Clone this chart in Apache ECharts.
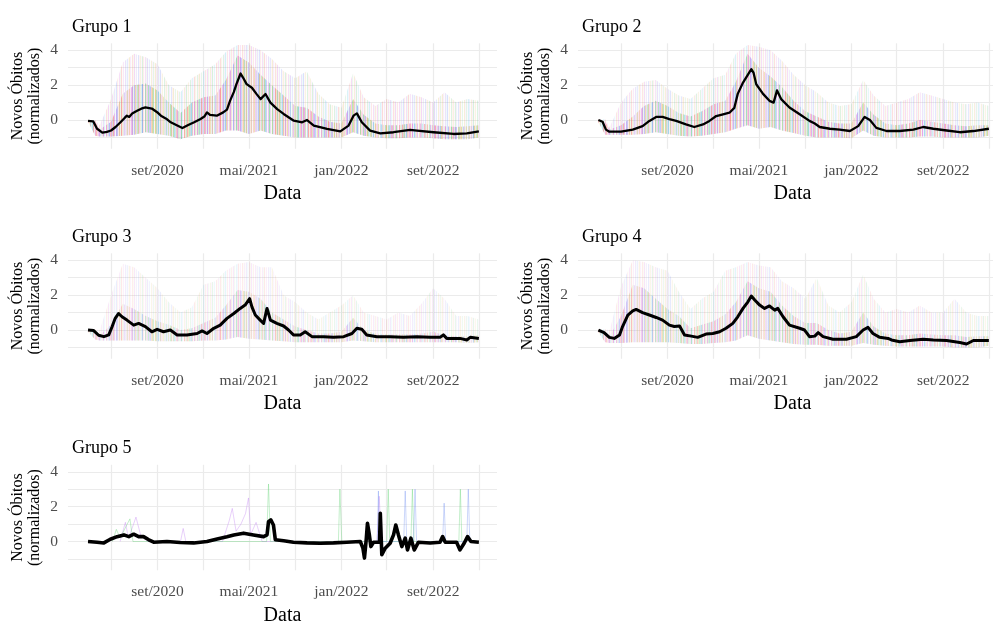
<!DOCTYPE html>
<html>
<head>
<meta charset="utf-8">
<title>Novos óbitos normalizados por grupo</title>
<script src="https://cdn.jsdelivr.net/npm/echarts@6/dist/echarts.min.js"></script>
<style>
	html, body { margin: 0; padding: 0; background: #ffffff; }
	#grafico { width: 993px; height: 621px; }
</style>
</head>
<body>
<div id="grafico"></div>
<script>
// ---- dados ----
var grupos = ['Grupo 1', 'Grupo 2', 'Grupo 3', 'Grupo 4', 'Grupo 5'];

var limitesData = ['2020-01-08', '2023-02-17'];
var rotulosData = ['2020-09-01', '2021-05-01', '2022-01-01', '2022-09-01'];
var gradeData = ['2020-05-01', '2020-09-01', '2021-01-01', '2021-05-01', '2021-09-01',
	'2022-01-01', '2022-05-01', '2022-09-01', '2023-01-01'];
var rotulosY = [0, 2, 4];
var gradeY = [-1, 0, 1, 2, 3, 4];
var nomesMeses = ['jan', 'fev', 'mar', 'abr', 'mai', 'jun', 'jul', 'ago', 'set', 'out', 'nov', 'dez'];

// datas da nuvem de séries individuais (envoltória)
var mesesNuvem = ['2020-03-01', '2020-03-20', '2020-04-01', '2020-05-01', '2020-06-01', '2020-07-01',
	'2020-08-01', '2020-09-01', '2020-10-01', '2020-11-01', '2020-12-01', '2021-01-01', '2021-02-01',
	'2021-03-01', '2021-04-01', '2021-05-01', '2021-06-01', '2021-07-01', '2021-08-01', '2021-09-01',
	'2021-10-01', '2021-11-01', '2021-12-01', '2022-01-01', '2022-02-01', '2022-03-01', '2022-04-01',
	'2022-05-01', '2022-06-01', '2022-07-01', '2022-08-01', '2022-09-01', '2022-10-01', '2022-11-01',
	'2022-12-01', '2022-12-31'];

var grupo1Teto = [0.0, 0.0, -0.3, 1.2, 3.3, 3.8, 3.6, 3.2, 2.0, 1.6, 2.4, 2.8, 3.2, 3.9, 4.3, 4.3, 4.0, 3.5,
	2.8, 2.4, 2.8, 1.5, 0.9, 0.7, 2.7, 1.3, 0.8, 1.2, 1.0, 1.5, 1.3, 1.0, 1.6, 1.0, 1.2, 1.1];
var grupo1Nucleo = [0.0, -0.1, -0.55, -0.1, 1.5, 2.0, 2.1, 1.7, 1.0, 0.4, 1.0, 1.3, 1.4, 2.3, 3.7, 3.3, 2.6,
	2.0, 1.4, 0.8, 0.7, 0.2, -0.1, -0.2, 1.2, 0.3, -0.2, -0.3, -0.3, -0.2, -0.2, -0.3, -0.35, -0.4, -0.35, -0.3];
var grupo1Piso = [-0.1, -0.9, -0.95, -0.95, -0.9, -0.85, -0.7, -0.8, -0.9, -1.1, -0.9, -0.8, -0.8, -0.6, -0.6,
	-0.8, -0.6, -0.8, -0.9, -1.0, -1.0, -1.0, -1.0, -1.0, -0.7, -0.9, -1.0, -1.05, -1.05, -1.0, -1.0, -1.05,
	-1.1, -1.1, -1.1, -1.0];

var grupo2Teto = [0.05, 0.05, -0.4, 1.0, 1.8, 2.2, 2.3, 1.8, 1.4, 1.2, 1.8, 2.4, 2.6, 3.8, 4.3, 4.2, 4.0, 3.4,
	2.6, 2.0, 1.6, 1.0, 0.8, 0.9, 2.3, 1.4, 0.8, 1.0, 1.2, 1.6, 1.4, 1.2, 1.0, 0.9, 1.0, 0.8];
var grupo2Nucleo = [0.0, -0.1, -0.55, -0.3, 0.2, 0.8, 1.1, 0.8, 0.4, 0.2, 0.5, 0.9, 1.1, 2.2, 3.8, 3.0, 2.5,
	1.9, 1.1, 0.5, 0.2, -0.1, -0.2, -0.2, 1.0, 0.3, -0.2, -0.3, -0.2, 0.0, -0.1, -0.2, -0.3, -0.35, -0.3, -0.3];
var grupo2Piso = [-0.1, -0.85, -0.85, -0.85, -0.85, -0.8, -0.7, -0.8, -0.9, -0.95, -0.9, -0.8, -0.7, -0.5, -0.3,
	-0.5, -0.4, -0.6, -0.75, -0.9, -1.0, -1.0, -1.0, -1.05, -0.6, -0.9, -1.0, -1.0, -1.0, -0.95, -0.95, -1.0,
	-1.0, -1.0, -1.0, -0.9];

var grupo3Teto = [0.05, 0.05, 0.0, 2.0, 3.8, 3.6, 3.0, 2.4, 1.6, 1.0, 1.3, 2.6, 2.8, 3.4, 3.8, 3.9, 3.6, 3.6,
	2.0, 1.6, 1.0, 0.6, 1.0, 1.4, 2.0, 1.0, 0.8, 0.6, 1.0, 0.8, 1.5, 2.4, 1.8, 0.8, 0.8, 0.6];
var grupo3Nucleo = [0.0, -0.05, -0.3, 0.3, 1.5, 1.2, 0.8, 0.5, 0.3, 0.0, 0.1, 0.4, 0.7, 1.4, 2.3, 2.2, 1.8,
	1.0, 0.6, 0.2, 0.0, -0.2, -0.2, -0.1, 0.7, 0.0, -0.2, -0.25, -0.25, -0.25, -0.2, -0.1, -0.3, -0.35, -0.35, -0.3];
var grupo3Piso = [-0.1, -0.55, -0.6, -0.6, -0.6, -0.6, -0.6, -0.65, -0.65, -0.65, -0.65, -0.6, -0.6, -0.55, -0.4,
	-0.5, -0.55, -0.6, -0.65, -0.7, -0.7, -0.7, -0.7, -0.7, -0.6, -0.65, -0.7, -0.7, -0.7, -0.7, -0.7, -0.7,
	-0.7, -0.7, -0.75, -0.7];

var grupo4Teto = [0.05, 0.05, 0.0, 2.5, 4.0, 3.9, 3.6, 3.4, 2.2, 1.2, 1.8, 2.2, 3.4, 3.6, 3.9, 3.7, 3.6, 2.8,
	2.4, 1.8, 3.0, 1.4, 1.0, 1.6, 3.2, 1.8, 1.0, 1.2, 1.0, 1.4, 1.0, 1.0, 1.8, 1.0, 0.8, 0.8];
var grupo4Nucleo = [0.0, -0.1, -0.35, 0.8, 2.6, 2.4, 1.8, 1.2, 0.8, 0.1, 0.3, 0.5, 0.9, 1.6, 2.8, 2.4, 2.2,
	1.4, 0.8, 0.4, 0.4, 0.0, -0.2, -0.1, 1.0, 0.2, -0.2, -0.3, -0.3, -0.2, -0.25, -0.3, -0.3, -0.4, -0.35, -0.35];
var grupo4Piso = [-0.1, -0.7, -0.75, -0.75, -0.7, -0.7, -0.7, -0.7, -0.75, -0.8, -0.8, -0.75, -0.7, -0.6, -0.3,
	-0.5, -0.6, -0.7, -0.8, -0.85, -0.85, -0.9, -0.9, -0.9, -0.75, -0.85, -0.9, -0.95, -0.95, -0.95, -0.95,
	-0.95, -1.0, -1.0, -1.0, -0.9];

// médias (linha preta)
var grupo1Media = [['2020-03-01', -0.05], ['2020-03-15', -0.08], ['2020-03-25', -0.5], ['2020-04-08', -0.72],
	['2020-04-20', -0.68], ['2020-05-01', -0.6], ['2020-05-13', -0.4], ['2020-05-26', -0.13], ['2020-06-06', 0.12],
	['2020-06-12', 0.25], ['2020-06-18', 0.18], ['2020-06-26', 0.38], ['2020-07-09', 0.53], ['2020-07-20', 0.65],
	['2020-07-31', 0.72], ['2020-08-17', 0.66], ['2020-08-31', 0.45], ['2020-09-10', 0.25], ['2020-09-24', 0.08],
	['2020-10-06', -0.13], ['2020-10-22', -0.3], ['2020-11-06', -0.46], ['2020-11-20', -0.3], ['2020-12-07', -0.13],
	['2020-12-24', 0.06], ['2021-01-03', 0.2], ['2021-01-10', 0.44], ['2021-01-18', 0.3], ['2021-02-05', 0.25],
	['2021-02-22', 0.44], ['2021-03-04', 0.6], ['2021-03-12', 1.1], ['2021-03-22', 1.6], ['2021-03-29', 2.06],
	['2021-04-09', 2.67], ['2021-04-15', 2.45], ['2021-04-25', 2.06], ['2021-05-09', 1.85], ['2021-05-21', 1.5],
	['2021-06-01', 1.2], ['2021-06-14', 1.49], ['2021-06-27', 1.0], ['2021-07-15', 0.63], ['2021-08-01', 0.35],
	['2021-08-28', -0.04], ['2021-09-19', -0.13], ['2021-10-02', 0.0], ['2021-10-20', -0.32], ['2021-11-24', -0.51],
	['2021-12-29', -0.65], ['2022-01-20', -0.32], ['2022-02-02', 0.25], ['2022-02-11', 0.38], ['2022-02-24', -0.13],
	['2022-03-18', -0.61], ['2022-04-14', -0.76], ['2022-05-19', -0.7], ['2022-07-02', -0.57], ['2022-07-20', -0.61],
	['2022-09-02', -0.7], ['2022-10-25', -0.8], ['2022-11-29', -0.76], ['2022-12-31', -0.65]];

var grupo2Media = [['2020-03-02', 0.0], ['2020-03-13', -0.1], ['2020-03-22', -0.55], ['2020-03-31', -0.67],
	['2020-05-01', -0.67], ['2020-06-01', -0.55], ['2020-06-27', -0.35], ['2020-07-15', -0.05], ['2020-08-02', 0.18],
	['2020-08-19', 0.18], ['2020-09-06', 0.05], ['2020-09-24', -0.05], ['2020-10-20', -0.25], ['2020-11-11', -0.4],
	['2020-12-04', -0.25], ['2020-12-21', -0.05], ['2021-01-08', 0.23], ['2021-01-26', 0.33], ['2021-02-12', 0.42],
	['2021-02-25', 0.7], ['2021-03-06', 1.5], ['2021-03-20', 2.15], ['2021-04-02', 2.6], ['2021-04-11', 2.92],
	['2021-04-17', 2.7], ['2021-04-24', 2.05], ['2021-05-12', 1.5], ['2021-05-29', 1.1], ['2021-06-09', 1.0],
	['2021-06-18', 1.7], ['2021-06-29', 1.2], ['2021-07-21', 0.72], ['2021-08-17', 0.33], ['2021-09-12', -0.05],
	['2021-09-26', -0.2], ['2021-10-09', -0.4], ['2021-11-05', -0.5], ['2021-12-01', -0.55], ['2021-12-28', -0.63],
	['2022-01-19', -0.35], ['2022-02-05', 0.18], ['2022-02-19', 0.0], ['2022-03-08', -0.45], ['2022-04-04', -0.63],
	['2022-05-09', -0.63], ['2022-06-14', -0.55], ['2022-07-10', -0.4], ['2022-08-06', -0.5], ['2022-09-10', -0.6],
	['2022-10-15', -0.7], ['2022-11-20', -0.63], ['2022-12-31', -0.5]];

var grupo3Media = [['2020-03-01', 0.0], ['2020-03-16', -0.03], ['2020-03-29', -0.3], ['2020-04-12', -0.38],
	['2020-04-25', -0.28], ['2020-05-04', 0.2], ['2020-05-12', 0.67], ['2020-05-21', 0.95], ['2020-05-30', 0.76],
	['2020-06-12', 0.57], ['2020-06-30', 0.28], ['2020-07-13', 0.38], ['2020-07-31', 0.2], ['2020-08-17', -0.1],
	['2020-08-31', 0.04], ['2020-09-17', -0.1], ['2020-10-05', 0.0], ['2020-10-23', -0.28], ['2020-11-18', -0.28],
	['2020-12-15', -0.2], ['2020-12-28', -0.05], ['2021-01-10', -0.2], ['2021-01-28', 0.1], ['2021-02-14', 0.28],
	['2021-03-04', 0.67], ['2021-03-22', 0.95], ['2021-04-08', 1.24], ['2021-04-21', 1.43], ['2021-05-03', 1.8],
	['2021-05-09', 1.33], ['2021-05-18', 0.86], ['2021-05-31', 0.57], ['2021-06-09', 0.38], ['2021-06-18', 1.24],
	['2021-06-27', 0.57], ['2021-07-14', 0.38], ['2021-08-01', 0.23], ['2021-08-14', 0.0], ['2021-08-27', -0.28],
	['2021-09-14', -0.28], ['2021-09-27', -0.1], ['2021-10-15', -0.38], ['2021-11-15', -0.38], ['2021-12-11', -0.42],
	['2022-01-07', -0.38], ['2022-01-29', -0.2], ['2022-02-11', 0.1], ['2022-02-24', 0.04], ['2022-03-09', -0.28],
	['2022-04-05', -0.38], ['2022-05-10', -0.38], ['2022-06-14', -0.42], ['2022-07-20', -0.38], ['2022-08-24', -0.42],
	['2022-09-19', -0.42], ['2022-09-28', -0.28], ['2022-10-07', -0.48], ['2022-11-11', -0.48], ['2022-11-29', -0.57],
	['2022-12-08', -0.42], ['2022-12-31', -0.48]];

var grupo4Media = [['2020-03-02', 0.0], ['2020-03-17', -0.15], ['2020-03-31', -0.42], ['2020-04-13', -0.48],
	['2020-04-27', -0.28], ['2020-05-05', 0.2], ['2020-05-19', 0.86], ['2020-06-01', 1.1], ['2020-06-10', 1.18],
	['2020-06-27', 1.0], ['2020-07-15', 0.86], ['2020-08-02', 0.72], ['2020-08-19', 0.57], ['2020-09-06', 0.28],
	['2020-09-19', 0.2], ['2020-10-03', 0.23], ['2020-10-16', -0.28], ['2020-11-03', -0.35], ['2020-11-20', -0.42],
	['2020-12-12', -0.23], ['2020-12-30', -0.2], ['2021-01-17', -0.1], ['2021-02-03', 0.1], ['2021-02-21', 0.38],
	['2021-03-06', 0.76], ['2021-03-20', 1.24], ['2021-04-02', 1.62], ['2021-04-11', 1.95], ['2021-04-20', 1.72],
	['2021-05-03', 1.43], ['2021-05-16', 1.24], ['2021-05-29', 1.38], ['2021-06-12', 1.14], ['2021-06-20', 1.24],
	['2021-07-04', 0.76], ['2021-07-21', 0.28], ['2021-08-17', 0.1], ['2021-08-30', 0.0], ['2021-09-12', -0.38],
	['2021-09-26', -0.35], ['2021-10-05', -0.15], ['2021-10-18', -0.38], ['2021-11-13', -0.53], ['2021-12-19', -0.53],
	['2022-01-14', -0.38], ['2022-02-01', 0.0], ['2022-02-14', 0.15], ['2022-02-27', -0.2], ['2022-03-17', -0.42],
	['2022-04-08', -0.48], ['2022-04-17', -0.57], ['2022-05-09', -0.67], ['2022-06-05', -0.6], ['2022-07-10', -0.53],
	['2022-08-06', -0.57], ['2022-09-10', -0.6], ['2022-10-15', -0.72], ['2022-11-02', -0.8], ['2022-11-20', -0.6],
	['2022-12-31', -0.6]];

var grupo5Media = [['2020-03-01', 0.0], ['2020-03-25', -0.04], ['2020-04-12', -0.08], ['2020-04-29', 0.13],
	['2020-05-17', 0.28], ['2020-06-04', 0.38], ['2020-06-17', 0.28], ['2020-06-30', 0.42], ['2020-07-13', 0.28],
	['2020-07-26', 0.28], ['2020-08-09', 0.1], ['2020-08-22', -0.04], ['2020-09-26', 0.0], ['2020-10-31', -0.06],
	['2020-12-06', -0.08], ['2021-01-10', 0.0], ['2021-02-06', 0.15], ['2021-03-04', 0.28], ['2021-03-22', 0.38],
	['2021-04-17', 0.48], ['2021-05-13', 0.38], ['2021-06-09', 0.28], ['2021-06-18', 0.38], ['2021-06-22', 1.14],
	['2021-06-28', 1.24], ['2021-07-05', 0.95], ['2021-07-10', 0.1], ['2021-08-01', 0.04], ['2021-08-27', -0.04],
	['2021-10-02', -0.08], ['2021-11-06', -0.1], ['2021-12-11', -0.08], ['2022-01-15', -0.04], ['2022-02-20', 0.0],
	['2022-02-27', -0.38], ['2022-03-03', -0.95], ['2022-03-08', 0.19], ['2022-03-11', 1.05], ['2022-03-16', 0.38],
	['2022-03-20', -0.29], ['2022-03-27', -0.04], ['2022-04-12', -0.04], ['2022-04-14', 1.62], ['2022-04-18', -0.76],
	['2022-04-27', -0.38], ['2022-05-10', -0.1], ['2022-05-19', 0.38], ['2022-05-25', 0.95], ['2022-06-01', 0.38],
	['2022-06-10', -0.29], ['2022-06-19', 0.19], ['2022-06-25', -0.48], ['2022-07-04', 0.19], ['2022-07-13', -0.48],
	['2022-07-24', -0.04], ['2022-08-24', -0.08], ['2022-09-19', -0.04], ['2022-09-26', 0.28], ['2022-10-03', -0.04],
	['2022-11-02', -0.04], ['2022-11-11', -0.48], ['2022-11-22', -0.1], ['2022-12-01', 0.28], ['2022-12-10', 0.0],
	['2022-12-31', -0.04]];

// poucas séries individuais visíveis no grupo 5
var grupo5TracoRoxo = [['2020-05-25', 0], ['2020-06-08', 1.1], ['2020-06-16', 0.2], ['2020-06-28', 0.9],
	['2020-07-06', 1.4], ['2020-07-18', 0.4], ['2020-08-05', 0], ['2020-11-01', 0], ['2020-11-08', 0.75],
	['2020-11-15', 0], ['2021-02-20', 0], ['2021-03-10', 1.2], ['2021-03-18', 1.9], ['2021-03-28', 0.6],
	['2021-04-10', 1.0], ['2021-04-22', 1.6], ['2021-04-30', 2.5], ['2021-05-06', 0.4], ['2021-05-20', 1.1],
	['2021-06-05', 0], ['2022-04-05', 0], ['2022-04-11', 2.6], ['2022-04-17', 0]];
var grupo5TracoVerde = [['2020-05-05', 0], ['2020-05-15', 0.7], ['2020-05-25', 0.2], ['2020-06-20', 1.3],
	['2020-06-28', 0], ['2021-06-17', 0], ['2021-06-22', 3.3], ['2021-06-27', 0], ['2021-12-24', 0],
	['2021-12-28', 3.0], ['2022-01-02', 0], ['2022-05-01', 0], ['2022-05-05', 3.0], ['2022-05-09', 0],
	['2022-07-04', 0], ['2022-07-08', 3.0], ['2022-07-12', 0], ['2022-11-08', 0], ['2022-11-12', 3.0],
	['2022-11-16', 0]];
var grupo5TracoAzul = [['2022-04-06', 0], ['2022-04-09', 2.9], ['2022-04-12', 0], ['2022-06-15', 0],
	['2022-06-19', 2.9], ['2022-06-23', 0], ['2022-07-11', 0], ['2022-07-15', 3.0], ['2022-07-19', 0],
	['2022-09-26', 0], ['2022-09-30', 2.2], ['2022-10-04', 0], ['2022-11-29', 0], ['2022-12-03', 3.0],
	['2022-12-07', 0]];

// ---- layout e estilo ----
var FONTE = '"Liberation Serif", "DejaVu Serif", serif';
var ALTURA_PAINEL = 105.5;
var LARGURA_PAINEL = 429;
var Y_MIN = -1.65, Y_MAX = 4.4;

var paineis = [
	{ media: grupo1Media, teto: grupo1Teto, nucleo: grupo1Nucleo, piso: grupo1Piso,
	  esquerda: 68, topo: 43.3, linha: 2.3, alfaNucleo: 0.32, alfaTeto: 0.15 },
	{ media: grupo2Media, teto: grupo2Teto, nucleo: grupo2Nucleo, piso: grupo2Piso,
	  esquerda: 578, topo: 43.3, linha: 2.3, alfaNucleo: 0.3, alfaTeto: 0.13 },
	{ media: grupo3Media, teto: grupo3Teto, nucleo: grupo3Nucleo, piso: grupo3Piso,
	  esquerda: 68, topo: 253.3, linha: 3, alfaNucleo: 0.2, alfaTeto: 0.09 },
	{ media: grupo4Media, teto: grupo4Teto, nucleo: grupo4Nucleo, piso: grupo4Piso,
	  esquerda: 578, topo: 253.3, linha: 3, alfaNucleo: 0.23, alfaTeto: 0.1 },
	{ media: grupo5Media, esquerda: 68, topo: 464.8, linha: 3.6 }
];

var tons = ['240,80,80', '70,190,90', '80,110,240', '210,70,210', '50,190,210', '200,170,50', '150,90,230'];
var pesosTom = [1, 0.35, 1.3, 0.7, 0.15, 1.15, 0.55, 1.4, 0.25, 0.9, 0.05, 1.2, 0.45];

function paraData(s)
{
	var p = s.split('-');
	return new Date(+p[0], +p[1] - 1, +p[2]).getTime();
}

function pontos(lista)
{
	return lista.map(function(par) { return [paraData(par[0]), par[1]]; });
}

// faixas verticais finas e coloridas (imitam a nuvem de séries individuais)
function criarListras(alfa, n)
{
	var paradas = [];
	for (var j = 0; j < n; j++)
	{
		var tom = tons[(j * 5 + Math.floor(j / 11)) % tons.length];
		var a = Math.min(0.9, alfa * pesosTom[j % pesosTom.length]);
		var cor = 'rgba(' + tom + ',' + a.toFixed(3) + ')';
		paradas.push({ offset: j / n, color: cor });
		paradas.push({ offset: (j + 1) / n, color: cor });
	}
	return new echarts.graphic.LinearGradient(0, 0, 1, 0, paradas);
}

// polígono entre duas envoltórias, desenhado pelas escalas do eixo
function desenharFaixa(superior, inferior, preenchimento)
{
	return function(params, api)
	{
		if (params.dataIndex !== 0)
			return null;
		
		var pts = [];
		for (var k = 0; k < mesesNuvem.length; k++)
			pts.push(api.coord([paraData(mesesNuvem[k]), superior[k]]));
		for (var k = mesesNuvem.length - 1; k >= 0; k--)
			pts.push(api.coord([paraData(mesesNuvem[k]), inferior[k]]));
		
		return { type: 'polygon', shape: { points: pts }, style: { fill: preenchimento } };
	};
}

function formatarData(v)
{
	var d = new Date(v);
	return nomesMeses[d.getMonth()] + '/' + d.getFullYear();
}

var grids = [], xAxes = [], yAxes = [], titulos = [], series = [];

paineis.forEach(function(p, i)
{
	grids.push({ left: p.esquerda, top: p.topo, width: LARGURA_PAINEL, height: ALTURA_PAINEL,
		outerBoundsMode: 'none', containLabel: false });
	
	titulos.push({ text: grupos[i], left: p.esquerda - 1, top: p.topo - 30.5,
		textStyle: { fontFamily: FONTE, fontSize: 18, fontWeight: 'normal', color: '#000' } });
	
	xAxes.push({
		type: 'value', gridIndex: i, scale: true,
		min: paraData(limitesData[0]), max: paraData(limitesData[1]),
		axisLine: { show: false },
		axisTick: { show: false, customValues: gradeData.map(paraData) },
		splitLine: { show: true, lineStyle: { color: '#ebebeb', width: 1.2 } },
		axisLabel: { customValues: rotulosData.map(paraData), formatter: formatarData,
			color: '#4d4d4d', fontFamily: FONTE, fontSize: 15.5, margin: 14 },
		name: 'Data', nameLocation: 'middle', nameGap: 35, nameMoveOverlap: false,
		nameTextStyle: { fontFamily: FONTE, fontSize: 20, color: '#000' }
	});
	
	yAxes.push({
		type: 'value', gridIndex: i, min: Y_MIN, max: Y_MAX,
		axisLine: { show: false },
		axisTick: { show: false, customValues: gradeY },
		splitLine: { show: true, lineStyle: { color: '#ebebeb', width: 1.2 } },
		axisLabel: { customValues: rotulosY, color: '#4d4d4d', fontFamily: FONTE, fontSize: 15.5, margin: 10 },
		name: 'Novos Óbitos\n(normalizados)', nameLocation: 'middle', nameRotate: 90, nameGap: 24,
		nameMoveOverlap: false,
		nameTextStyle: { fontFamily: FONTE, fontSize: 16, lineHeight: 17.5, color: '#000' }
	});
	
	if (p.teto)
	{
		var ancora = [[paraData(mesesNuvem[0]), p.piso[0]]];
		
		series.push({ type: 'custom', xAxisIndex: i, yAxisIndex: i, data: ancora, silent: true, z: 1,
			encode: { x: 0, y: 1 },
			renderItem: desenharFaixa(p.teto, p.piso, criarListras(p.alfaTeto, 390)) });
		series.push({ type: 'custom', xAxisIndex: i, yAxisIndex: i, data: ancora, silent: true, z: 1,
			encode: { x: 0, y: 1 },
			renderItem: desenharFaixa(p.nucleo, p.piso, criarListras(p.alfaNucleo, 520)) });
	}
	else
	{
		[[grupo5TracoRoxo, 'rgba(190,120,240,0.35)'], [grupo5TracoVerde, 'rgba(90,210,110,0.35)'],
		 [grupo5TracoAzul, 'rgba(110,140,240,0.35)']].forEach(function(t)
		{
			series.push({ type: 'line', xAxisIndex: i, yAxisIndex: i, data: pontos(t[0]), showSymbol: false,
				silent: true, z: 2, lineStyle: { width: 1, color: t[1] } });
		});
	}
	
	series.push({ type: 'line', xAxisIndex: i, yAxisIndex: i, data: pontos(p.media), showSymbol: false,
		silent: true, z: 3, lineStyle: { width: p.linha, color: '#000', join: 'round' } });
});

var grafico = echarts.init(document.getElementById('grafico'), null, { renderer: 'canvas' });
grafico.setOption({
	animation: false,
	backgroundColor: '#ffffff',
	title: titulos,
	grid: grids,
	xAxis: xAxes,
	yAxis: yAxes,
	series: series
});
</script>
</body>
</html>
